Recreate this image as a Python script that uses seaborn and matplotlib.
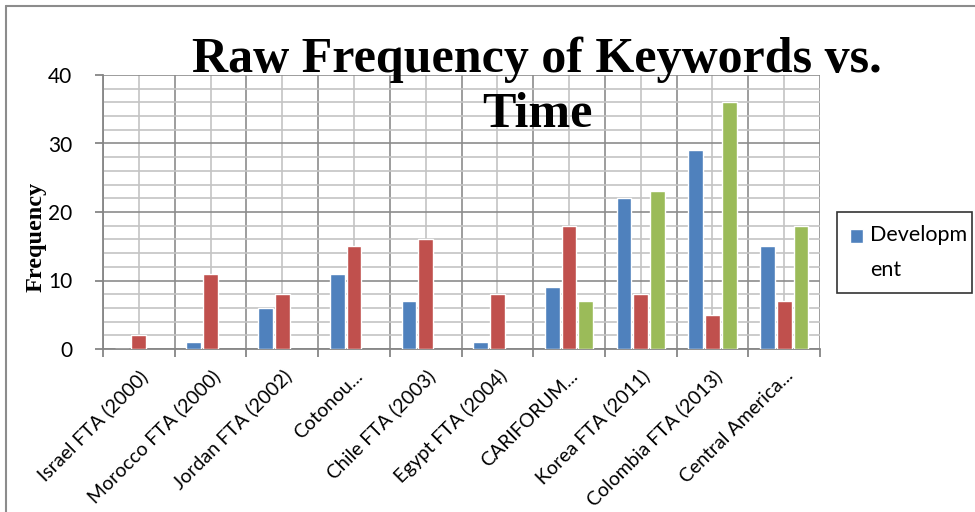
import numpy as np
import pandas as pd
import matplotlib
matplotlib.use("Agg")
import matplotlib.pyplot as plt
from matplotlib.lines import Line2D
from matplotlib.patches import Patch
import seaborn as sns

# ── Data ──────────────────────────────────────────────────────────────────────
AGREEMENTS = ["Israel FTA (2000)", "Morocco FTA (2000)", "Jordan FTA (2002)",
              "Cotonou...", "Chile FTA (2003)", "Egypt FTA (2004)",
              "CARIFORUM...", "Korea FTA (2011)", "Colombia FTA (2013)",
              "Central America..."]
SERIES      = ["Development", "Series 2", "Series 3"]
DEVELOPMENT = [0, 1, 6, 11, 7, 1, 9, 22, 29, 15]
SERIES_2    = [2, 11, 8, 15, 16, 8, 18, 8, 5, 7]
SERIES_3    = [np.nan, np.nan, np.nan, np.nan, np.nan, np.nan, 7, 23, 36, 18]
Y_TICKS     = [0, 10, 20, 30, 40]

PALETTE = ["#4F81BD", "#C0504D", "#9BBB59"]

df = pd.DataFrame({
    "agreement": AGREEMENTS * 3,
    "series":    np.repeat(SERIES, len(AGREEMENTS)),
    "freq":      DEVELOPMENT + SERIES_2 + SERIES_3,
}).dropna()

# ── Figure ────────────────────────────────────────────────────────────────────
sns.set_style("white")
plt.rcParams["text.color"] = "black"
plt.rcParams["xtick.labelcolor"] = "black"
plt.rcParams["ytick.labelcolor"] = "black"
plt.rcParams["axes.labelcolor"] = "black"

fig = plt.figure(figsize=(9.75, 5.12), dpi=100)
ax = fig.add_axes([103/975, 1-349/512, 717/975, 274/512])

sns.barplot(data=df, x="agreement", y="freq", hue="series",
            order=AGREEMENTS, hue_order=SERIES, palette=PALETTE,
            saturation=1, width=0.7, gap=0.12, edgecolor="white",
            linewidth=1, legend=False, ax=ax, zorder=3)

n = len(AGREEMENTS)
ax.set_xlim(-0.5, n - 0.5)
ax.set_ylim(0, 40)

# category boundaries = major (tick marks), centres = minor (labels)
ax.set_xticks(np.arange(n + 1) - 0.5, labels=[""] * (n + 1))
ax.set_xticks(np.arange(n), labels=AGREEMENTS, minor=True)
ax.set_yticks(Y_TICKS, labels=[str(t) for t in Y_TICKS])
ax.set_yticks(np.arange(0, 41, 2), minor=True)

ax.tick_params(axis="x", which="major", length=6, width=1.3, color="#868686",
               direction="out", bottom=True)
ax.tick_params(axis="x", which="minor", length=0, pad=13, labelsize=14)
ax.tick_params(axis="y", which="major", length=6, width=1.3, color="#868686",
               direction="out", left=True, pad=16, labelsize=15)
ax.tick_params(axis="y", which="minor", length=0)
for lbl in ax.get_xticklabels(minor=True):
    lbl.set_rotation(45)
    lbl.set_ha("right")
    lbl.set_rotation_mode("anchor")
    lbl.set_fontfamily("Lato")
for lbl in ax.get_yticklabels():
    lbl.set_fontfamily("Lato")

ax.grid(which="major", color="#8C8C8C", linewidth=1.2, zorder=0)
ax.grid(which="minor", color="#C4C4C4", linewidth=1.2, zorder=0)
ax.set_axisbelow(True)
for side in ["top", "right"]:
    ax.spines[side].set_visible(False)
for side in ["left", "bottom"]:
    ax.spines[side].set_color("#868686")
    ax.spines[side].set_linewidth(1.3)

ax.set_xlabel("")
ax.set_ylabel("Frequency", fontsize=17.5, fontweight="bold",
              family="Liberation Serif", va="center")
ax.yaxis.set_label_coords(-0.094, 0.409)

fig.text(537/975, 1-127/512, "Raw Frequency of Keywords vs.\nTime",
         ha="center", va="baseline", fontsize=36, fontweight="bold",
         family="Liberation Serif", linespacing=1.25)

# legend shows only the first series, as in the original
leg = fig.legend(handles=[Patch(facecolor=PALETTE[0], edgecolor="white")],
                 labels=["Developm\nent"], loc="center",
                 bbox_to_anchor=(837/975, 1-297/512, 135/975, 89/512),
                 mode="expand", borderaxespad=0, frameon=True, fancybox=False,
                 edgecolor="black", handlelength=0.6, handleheight=0.6,
                 handletextpad=0.35, borderpad=0.6,
                 prop={"family": "Lato", "size": 15.5})
leg.get_frame().set_linewidth(1.2)
leg.get_texts()[0].set_linespacing(1.9)
# put the square next to the first line of the wrapped label
sq = leg.legend_handles[0]
sq.set_y(sq.get_y() + 12)

# outer chart-area frame
fig.add_artist(Line2D([6/975, 6/975], [0, 1-6/512], color="#8C8C8C", lw=1.5))
fig.add_artist(Line2D([6/975, 1], [1-6/512, 1-6/512], color="#8C8C8C", lw=1.5))

plt.savefig("out.png", dpi=100)
